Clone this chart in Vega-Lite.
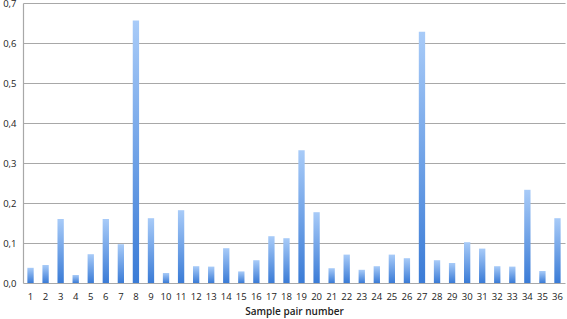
{
  "$schema": "https://vega.github.io/schema/vega-lite/v6.json",
  "width": 542,
  "height": 280,
  "autosize": "none",
  "padding": {"left": 23, "top": 3, "right": 2, "bottom": 36},
  "background": "white",
  "config": {
    "view": {"stroke": null},
    "font": "Open Sans"
  },
  "data": {
    "values": [
      {"pair": 1, "value": 0.038},
      {"pair": 2, "value": 0.045},
      {"pair": 3, "value": 0.16},
      {"pair": 4, "value": 0.02},
      {"pair": 5, "value": 0.072},
      {"pair": 6, "value": 0.16},
      {"pair": 7, "value": 0.097},
      {"pair": 8, "value": 0.656},
      {"pair": 9, "value": 0.162},
      {"pair": 10, "value": 0.025},
      {"pair": 11, "value": 0.182},
      {"pair": 12, "value": 0.042},
      {"pair": 13, "value": 0.041},
      {"pair": 14, "value": 0.087},
      {"pair": 15, "value": 0.029},
      {"pair": 16, "value": 0.057},
      {"pair": 17, "value": 0.117},
      {"pair": 18, "value": 0.112},
      {"pair": 19, "value": 0.332},
      {"pair": 20, "value": 0.177},
      {"pair": 21, "value": 0.037},
      {"pair": 22, "value": 0.071},
      {"pair": 23, "value": 0.033},
      {"pair": 24, "value": 0.042},
      {"pair": 25, "value": 0.071},
      {"pair": 26, "value": 0.062},
      {"pair": 27, "value": 0.628},
      {"pair": 28, "value": 0.057},
      {"pair": 29, "value": 0.05},
      {"pair": 30, "value": 0.102},
      {"pair": 31, "value": 0.086},
      {"pair": 32, "value": 0.042},
      {"pair": 33, "value": 0.041},
      {"pair": 34, "value": 0.233},
      {"pair": 35, "value": 0.03},
      {"pair": 36, "value": 0.162}
    ]
  },
  "mark": {
    "type": "bar",
    "fill": {
      "gradient": "linear",
      "x1": 0, "y1": 0, "x2": 0, "y2": 1,
      "stops": [
        {"offset": 0, "color": "#a8cbf8"},
        {"offset": 1, "color": "#3a7bd6"}
      ]
    }
  },
  "encoding": {
    "x": {
      "field": "pair",
      "type": "ordinal",
      "sort": null,
      "scale": {"paddingInner": 0.58, "paddingOuter": 0.29},
      "axis": {
        "title": "Sample pair number",
        "titleFont": "Open Sans",
        "titleFontSize": 10,
        "titleFontWeight": 600,
        "titleColor": "#222222",
        "titlePadding": 6,
        "labelAngle": 0,
        "labelFontSize": 9.5,
        "labelColor": "#222222",
        "labelPadding": 8,
        "ticks": false,
        "domain": false
      }
    },
    "y": {
      "field": "value",
      "type": "quantitative",
      "scale": {"domain": [0, 0.7], "nice": false},
      "axis": {
        "title": null,
        "values": [0, 0.1, 0.2, 0.3, 0.4, 0.5, 0.6, 0.7],
        "labelExpr": "replace(format(datum.value, '.1f'), '.', ',')",
        "labelFontSize": 9.5,
        "labelColor": "#222222",
        "labelPadding": 7,
        "ticks": false,
        "domain": true,
        "domainColor": "#a8a8a8",
        "domainWidth": 1.2,
        "grid": true,
        "gridColor": "#a8a8a8",
        "gridWidth": 1.2
      }
    }
  }
}
